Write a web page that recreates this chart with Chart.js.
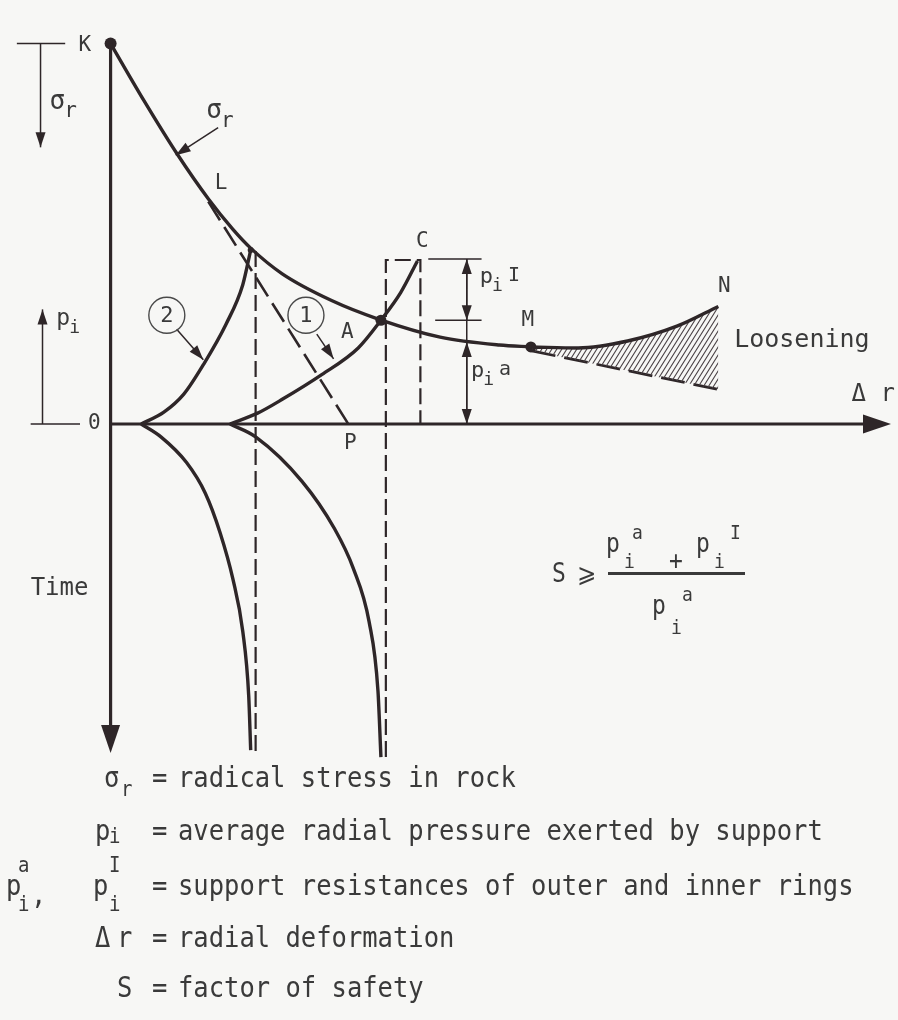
<!DOCTYPE html>
<html>
<head>
<meta charset="utf-8">
<script src="https://cdn.jsdelivr.net/npm/chart.js@4.4.0/dist/chart.umd.min.js"></script>
<style>
  html, body { margin: 0; padding: 0; background: #f7f7f5; }
  #wrap { position: relative; width: 898px; height: 1020px; overflow: hidden; }
  #diagram { position: absolute; left: 0; top: 0; }
  .t { position: absolute; font-family: "DejaVu Sans Mono", monospace; color: #3a3a3a;
       white-space: pre; line-height: 1; font-size: 25.5px; transform: scaleY(1.12); }
  .s { font-size: 19px; }
  .f { font-size: 23px; }
  .fs { font-size: 18px; }
  .math { font-family: "DejaVu Sans", sans-serif; }
  #bar { position: absolute; left: 608px; top: 572px; width: 137px; height: 2.5px; background: #3a3a3a; }
</style>
</head>
<body>
<div id="wrap">
  <canvas id="diagram" width="898" height="1020"></canvas>

  <!-- safety factor formula -->
  <span class="t f" style="left:552px;top:562px">S</span>
  <span class="t f math" style="left:577px;top:562px">⩾</span>
  <span class="t f" style="left:606px;top:532px">p</span>
  <span class="t fs" style="left:632px;top:523px">a</span>
  <span class="t fs" style="left:624px;top:552px">i</span>
  <span class="t f" style="left:669px;top:549px">+</span>
  <span class="t f" style="left:696px;top:532px">p</span>
  <span class="t fs" style="left:714px;top:552px">i</span>
  <span class="t fs" style="left:730px;top:523px">I</span>
  <div id="bar"></div>
  <span class="t f" style="left:652px;top:594px">p</span>
  <span class="t fs" style="left:682px;top:585px">a</span>
  <span class="t fs" style="left:671px;top:618px">i</span>

  <!-- definitions -->
  <span class="t" style="left:104px;top:765px">σ</span>
  <span class="t s" style="left:121px;top:779px">r</span>
  <span class="t" style="left:152px;top:765px">=</span>
  <span class="t" style="left:178px;top:765px">radical stress in rock</span>

  <span class="t" style="left:95px;top:818px">p</span>
  <span class="t s" style="left:109px;top:826px">i</span>
  <span class="t" style="left:152px;top:818px">=</span>
  <span class="t" style="left:178px;top:818px">average radial pressure exerted by support</span>

  <span class="t" style="left:6px;top:873px">p</span>
  <span class="t s" style="left:18px;top:855px">a</span>
  <span class="t s" style="left:18px;top:894px">i</span>
  <span class="t" style="left:31px;top:882px">,</span>
  <span class="t" style="left:93px;top:873px">p</span>
  <span class="t s" style="left:109px;top:855px">I</span>
  <span class="t s" style="left:109px;top:894px">i</span>
  <span class="t" style="left:152px;top:873px">=</span>
  <span class="t" style="left:178px;top:873px">support resistances of outer and inner rings</span>

  <span class="t" style="left:95px;top:925px">Δ</span>
  <span class="t" style="left:117px;top:925px">r</span>
  <span class="t" style="left:152px;top:925px">=</span>
  <span class="t" style="left:178px;top:925px">radial deformation</span>

  <span class="t" style="left:117px;top:975px">S</span>
  <span class="t" style="left:152px;top:975px">=</span>
  <span class="t" style="left:178px;top:975px">factor of safety</span>
</div>
<script>
// x = radial deformation, y = pressure (up) / time (down)
const sigmaCurve = [[0.0, 38.5], [3.4, 32.7], [6.7, 27.4], [9.9, 22.8], [12.4, 19.7], [14.2, 17.8],
  [17.4, 15.2], [22.4, 12.5], [27.2, 10.6], [33.4, 8.8], [39.4, 8.0], [42.7, 7.8]];
const looseningCurve = [[42.7, 7.8], [47.4, 7.7], [52.4, 8.4], [57.4, 9.9], [61.6, 11.9]];
const looseningDashed = [[42.7, 7.4], [61.6, 3.5]];
const ring2Curve = [[3.1, 0], [5.4, 1.2], [7.4, 3.0], [9.4, 6.0], [11.7, 10.1], [13.4, 14.1], [14.2, 17.6]];
const ring1Curve = [[12.1, 0], [14.9, 1.1], [17.4, 2.5], [21.4, 5.0], [25.1, 7.7], [27.4, 10.5], [29.4, 13.3], [31.1, 16.5]];
const ring2Time = [[3.1, 0], [5.1, -1.3], [7.7, -3.9], [9.6, -7.0], [11.1, -11.0], [12.4, -15.7], [13.4, -21.0], [14.0, -27.5], [14.2, -33.0]];
const ring1Time = [[12.1, 0], [14.7, -1.3], [19.4, -5.8], [22.7, -10.6], [24.6, -14.6], [26.2, -20.0], [27.1, -27.0], [27.4, -33.7]];
const tangentLP = [[9.9, 22.5], [24.1, 0]];
const drop2 = [[14.7, 17.5], [14.7, -33.4]];
const drop1 = [[27.9, -33.7], [27.9, 16.6], [31.4, 16.6], [31.4, 0]];
const dimTicks = [[[32.2, 16.7], [37.6, 16.7]], [[32.9, 10.5], [37.6, 10.5]], [[36.1, 16.7], [36.1, 0]],
  [[-9.5, 38.5], [-4.6, 38.5]], [[-8.1, 0], [-3.1, 0]]];
const keyPoints = [[0.0, 38.5], [27.4, 10.5], [42.6, 7.8], [14.2, 17.6]];

const axes = [
  { from: [0, 38.5], to: [0, -33.3] },
  { from: [0, 0], to: [79.1, 0] }
];
const pointers = [
  [[-7.1, 38.5], [-7.1, 28.0]],
  [[-6.9, 0], [-6.9, 11.6]],
  [[10.9, 30.0], [6.6, 27.2]],
  [[6.7, 9.6], [9.4, 6.5]],
  [[20.9, 9.1], [22.6, 6.6]],
  [[36.1, 13.6], [36.1, 16.7]],
  [[36.1, 13.6], [36.1, 10.5]],
  [[36.1, 4.0], [36.1, 8.3]],
  [[36.1, 4.0], [36.1, 0.0]]
];
const circled = [{ text: "2", at: [5.7, 11.0] }, { text: "1", at: [19.8, 11.0] }];
const labels = [
  { text: "K", at: [-2.6, 38.3] },
  { text: "L", at: [11.2, 24.3] },
  { text: "C", at: [31.6, 18.5] },
  { text: "A", at: [24.0, 9.3] },
  { text: "P", at: [24.3, -2.0] },
  { text: "M", at: [42.3, 10.5] },
  { text: "N", at: [62.2, 13.9] },
  { text: "0", at: [-1.65, 0] },
  { text: "Loosening", at: [63.2, 8.5], left: true, size: 25 },
  { text: "Δ r", at: [75.1, 3.0], left: true, size: 24 },
  { text: "Time", at: [-8.1, -16.7], left: true, size: 24 },
  { text: "σ", sub: "r", at: [-5.4, 32.6], size: 26 },
  { text: "σ", sub: "r", at: [10.5, 31.6], size: 26 },
  { text: "p", sub: "i", at: [-4.8, 10.6], size: 23 },
  { text: "p", sub: "i", sup: "I", at: [38.1, 14.8], size: 22 },
  { text: "p", sub: "i", sup: "a", at: [37.2, 5.3], size: 22 }
];

const ink = "#2e2628";
const textInk = "#3a3a3a";
const mono = "DejaVu Sans Mono";

function makeHatch() {
  const c = document.createElement("canvas");
  c.width = 5; c.height = 8;
  const g = c.getContext("2d");
  g.strokeStyle = "#4a4245";
  g.lineWidth = 1.1;
  g.beginPath();
  g.moveTo(0, 8); g.lineTo(5, 0);
  g.moveTo(-1, 1.6); g.lineTo(1, -1.6);
  g.moveTo(4, 9.6); g.lineTo(6, 6.4);
  g.stroke();
  return g.createPattern(c, "repeat");
}

function line(data, opts) {
  return Object.assign({
    data, borderColor: ink, borderWidth: 3.4, pointRadius: 0, tension: 0, fill: false
  }, opts || {});
}

function curve(data, opts) {
  return line(data, Object.assign({ cubicInterpolationMode: "monotone" }, opts || {}));
}

function arrowHead(ctx, x1, y1, x2, y2, len, half) {
  const a = Math.atan2(y2 - y1, x2 - x1);
  const bx = x2 - len * Math.cos(a), by = y2 - len * Math.sin(a);
  ctx.beginPath();
  ctx.moveTo(x2, y2);
  ctx.lineTo(bx + half * Math.sin(a), by - half * Math.cos(a));
  ctx.lineTo(bx - half * Math.sin(a), by + half * Math.cos(a));
  ctx.closePath();
  ctx.fill();
}

const diagramPlugin = {
  id: "diagram",
  afterDatasetsDraw(chart) {
    const ctx = chart.ctx;
    const xs = chart.scales.x, ys = chart.scales.y;
    const px = v => xs.getPixelForValue(v), py = v => ys.getPixelForValue(v);
    ctx.save();
    ctx.strokeStyle = ink;
    ctx.fillStyle = ink;

    axes.forEach(a => {
      const x1 = px(a.from[0]), y1 = py(a.from[1]), x2 = px(a.to[0]), y2 = py(a.to[1]);
      ctx.lineWidth = 3.2;
      ctx.beginPath(); ctx.moveTo(x1, y1); ctx.lineTo(x2 - (x2 - x1) * 0.02, y2 - (y2 - y1) * 0.02); ctx.stroke();
      arrowHead(ctx, x1, y1, x2, y2, 28, 9.5);
    });

    pointers.forEach(([f, t]) => {
      const x1 = px(f[0]), y1 = py(f[1]), x2 = px(t[0]), y2 = py(t[1]);
      ctx.lineWidth = 1.5;
      ctx.beginPath(); ctx.moveTo(x1, y1); ctx.lineTo(x2, y2); ctx.stroke();
      arrowHead(ctx, x1, y1, x2, y2, 15, 5);
    });

    ctx.fillStyle = textInk;
    ctx.strokeStyle = "#4a4a4a";
    ctx.textBaseline = "middle";
    circled.forEach(c => {
      const x = px(c.at[0]), y = py(c.at[1]);
      ctx.lineWidth = 1.4;
      ctx.beginPath(); ctx.arc(x, y, 18, 0, Math.PI * 2); ctx.stroke();
      ctx.font = "22px " + mono;
      ctx.textAlign = "center";
      ctx.fillText(c.text, x, y + 1);
    });

    labels.forEach(l => {
      const size = l.size || 21;
      const x = px(l.at[0]), y = py(l.at[1]);
      ctx.font = size + "px " + mono;
      ctx.textAlign = l.left ? "left" : "center";
      ctx.fillText(l.text, x, y);
      const w = ctx.measureText(l.text).width;
      let nx = l.left ? x + w : x + w / 2;
      if (l.sub) {
        ctx.font = Math.round(size * 0.8) + "px " + mono;
        ctx.textAlign = "left";
        ctx.fillText(l.sub, nx - 1, y + size * 0.38);
        nx += ctx.measureText(l.sub).width + 4;
      }
      if (l.sup) {
        ctx.font = Math.round(size * 0.9) + "px " + mono;
        ctx.textAlign = "left";
        ctx.fillText(l.sup, nx, y - 2);
      }
    });
    ctx.restore();
  }
};

const datasets = [
  curve(sigmaCurve),
  curve(looseningCurve, { fill: "+1", backgroundColor: makeHatch() }),
  line(looseningDashed, { borderWidth: 2.8, borderDash: [24, 9] }),
  curve(ring2Curve),
  curve(ring1Curve),
  curve(ring2Time),
  curve(ring1Time),
  line(tangentLP, { borderWidth: 2.6, borderDash: [22, 8] }),
  line(drop2, { borderWidth: 2.2, borderDash: [16, 6] }),
  line(drop1, { borderWidth: 2.2, borderDash: [16, 6] }),
  ...dimTicks.map(d => line(d, { borderWidth: 1.5 })),
  { data: keyPoints, showLine: false, pointRadius: [6, 5.5, 5.5, 3], pointBackgroundColor: ink,
    pointBorderWidth: 0, borderColor: ink }
];

new Chart(document.getElementById("diagram"), {
  type: "line",
  data: { datasets },
  options: {
    responsive: false,
    devicePixelRatio: 1,
    animation: false,
    layout: { padding: 0 },
    plugins: { legend: { display: false }, tooltip: { enabled: false } },
    events: [],
    scales: {
      x: { type: "linear", min: -10.6, max: 79.2, display: false },
      y: { type: "linear", min: -59.7, max: 42.3, display: false }
    }
  },
  plugins: [diagramPlugin]
});
</script>
</body>
</html>
